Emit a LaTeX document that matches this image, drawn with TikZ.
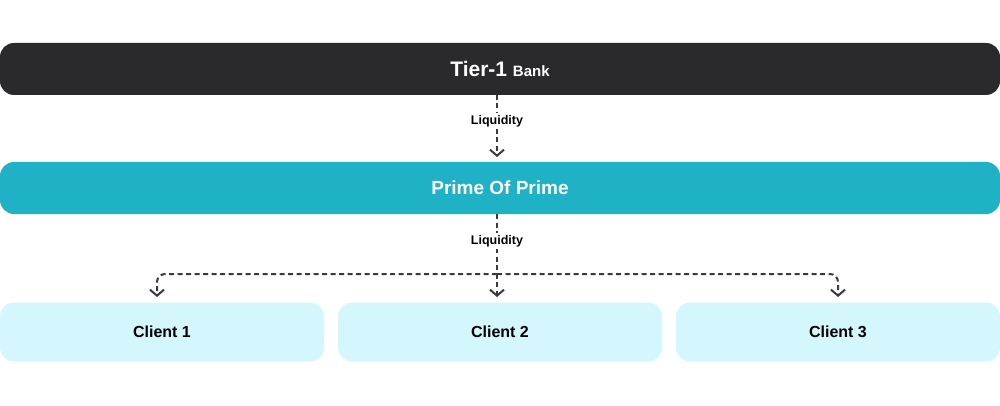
\documentclass[tikz,border=0pt]{standalone}
\usepackage{fontspec}
\setmainfont{Liberation Sans}
\usetikzlibrary{arrows.meta}
\definecolor{dark}{HTML}{2A292B}
\definecolor{teal}{HTML}{1FB1C6}
\definecolor{light}{HTML}{D3F7FC}
\definecolor{lineg}{HTML}{3A3A3C}
\begin{document}
\begin{tikzpicture}[x=1pt,y=-1pt,
 bar/.style={rounded corners=14pt,minimum height=52pt,inner sep=0pt},
 client/.style={rounded corners=14pt,fill=light,minimum width=324pt,minimum height=59pt,inner sep=0pt,font=\bfseries\fontsize{16}{19}\selectfont},
 lab/.style={fill=white,inner sep=2pt,font=\bfseries\fontsize{12.5}{15}\selectfont},
 con/.style={draw=lineg,line width=2pt,dash pattern=on 5pt off 3.5pt,-{Straight Barb[length=6pt,width=14pt,line width=2pt]}}]
\useasboundingbox[fill=white] (0,0) rectangle (1000,406);
\node[bar,fill=dark,minimum width=1000pt,text=white] (tier) at (500,69) {\bfseries\fontsize{21}{25}\selectfont Tier-1\ \fontsize{15}{18}\selectfont Bank};
\node[bar,fill=teal,minimum width=1000pt,text=white] (pop) at (500,188) {\bfseries\fontsize{19}{23}\selectfont Prime Of Prime};
\node[client] (c1) at (162,332) {Client 1};
\node[client] (c2) at (500,332) {Client 2};
\node[client] (c3) at (838,332) {Client 3};
\coordinate (e1) at (157,297);
\coordinate (e2) at (497,297);
\coordinate (e3) at (838,297);
\coordinate (j) at (497,274);
\draw[con] (497,95) -- (497,157);
\node[lab] (l1) at (497,121) {Liquidity};
\draw[con] (497,214) -- (e2);
\draw[con,rounded corners=8pt] (j) -| (e1);
\draw[con,rounded corners=8pt] (j) -| (e3);
\node[lab] (l2) at (497,241) {Liquidity};
\end{tikzpicture}
\end{document}
